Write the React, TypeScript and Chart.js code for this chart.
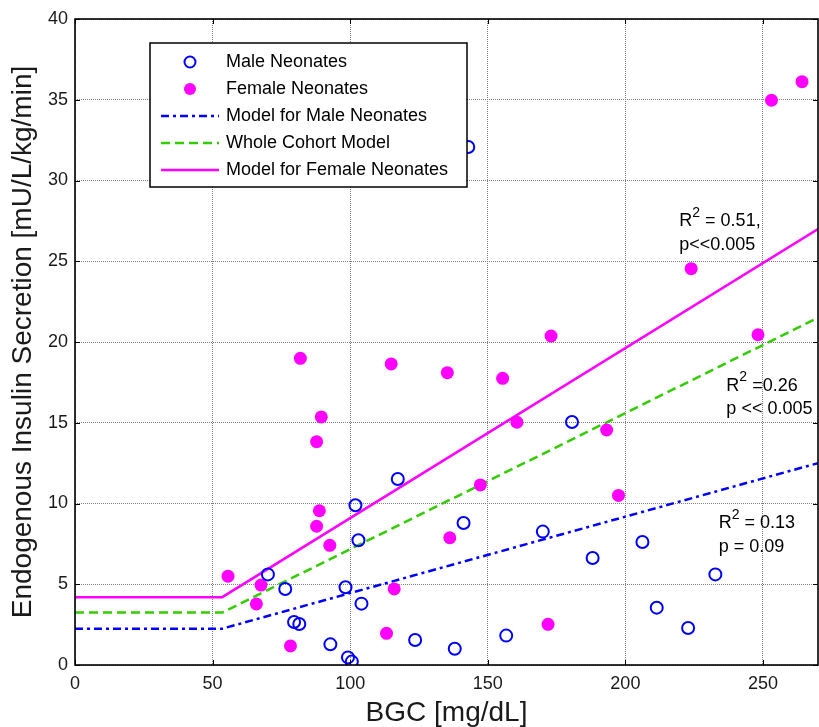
import React, { useEffect, useRef } from "react";
import { Chart, registerables } from "chart.js";

Chart.register(...registerables);

// ---- data ----
const maleX = [70.1, 76.4, 79.6, 81.5, 92.8, 98.3, 99.2, 100.6, 101.9, 103.0, 104.1, 117.3, 123.6, 141.2, 138.0, 156.7, 170.0, 180.6, 188.1, 206.2, 211.4, 222.8, 232.7, 142.9];
const maleY = [5.61, 4.71, 2.66, 2.54, 1.28, 4.81, 0.47, 0.21, 9.89, 7.72, 3.8, 11.52, 1.55, 8.79, 1.01, 1.82, 8.26, 15.05, 6.63, 7.62, 3.55, 2.29, 5.61, 32.07];

const femaleX = [55.6, 67.6, 65.9, 78.3, 81.9, 89.5, 87.8, 88.8, 87.8, 92.6, 114.9, 116.0, 113.2, 135.3, 155.4, 160.6, 147.3, 136.2, 171.9, 193.2, 197.5, 173.0, 223.9, 248.2, 253.1, 264.2];
const femaleY = [5.5, 4.95, 3.78, 1.18, 18.99, 15.36, 13.83, 9.55, 8.59, 7.41, 18.64, 4.71, 1.96, 18.1, 17.75, 15.03, 11.15, 7.88, 2.52, 14.55, 10.5, 20.37, 24.54, 20.45, 34.97, 36.12];

const modelX = [0, 53.5, 270];
const maleModelY = [2.25, 2.25, 12.5];
const cohortModelY = [3.25, 3.25, 21.5];
const femaleModelY = [4.2, 4.2, 27.0];

const xTicks = [0, 50, 100, 150, 200, 250];
const yTicks = [0, 5, 10, 15, 20, 25, 30, 35, 40];

const legendLabels = [
  "Male Neonates",
  "Female Neonates",
  "Model for Male Neonates",
  "Whole Cohort Model",
  "Model for Female Neonates",
];

const annoText = ["R^2 = 0.51,", "p<<0.005", "R^2 =0.26", "p << 0.005", "R^2 = 0.13", "p = 0.09"];
const annoX = [219.6, 219.6, 236.7, 236.7, 233.9, 233.9];
const annoY = [27.5, 26.0, 17.3, 15.83, 8.81, 7.29];

// ---- styles ----
const BLUE = "#0000ff";
const MAGENTA = "#ff00ff";
const GREEN = "#33cc00";
const FONT = '"Liberation Sans", Arial, sans-serif';
const DASH_MALE = [8, 4, 3, 4];
const DASH_COHORT = [9, 5];

const toPts = (xs: number[], ys: number[]) => xs.map((x, i) => ({ x, y: ys[i] }));

const overlayPlugin = {
  id: "overlay",
  afterDraw(chart: any) {
    const { ctx, chartArea: a, scales } = chart;
    const xs = scales.x;
    const ys = scales.y;
    ctx.save();
    // inward ticks
    ctx.strokeStyle = "#000";
    ctx.lineWidth = 1;
    ctx.setLineDash([]);
    const seg = (x1: number, y1: number, x2: number, y2: number) => {
      ctx.beginPath();
      ctx.moveTo(x1, y1);
      ctx.lineTo(x2, y2);
      ctx.stroke();
    };
    for (const v of xTicks) {
      const px = Math.round(xs.getPixelForValue(v)) + 0.5;
      seg(px, a.bottom, px, a.bottom - 5);
      seg(px, a.top, px, a.top + 5);
    }
    for (const v of yTicks) {
      const py = Math.round(ys.getPixelForValue(v)) + 0.5;
      seg(a.left, py, a.left + 5, py);
      seg(a.right, py, a.right - 5, py);
    }
    // frame
    ctx.lineWidth = 1.6;
    ctx.strokeRect(a.left, a.top, a.right - a.left, a.bottom - a.top);

    // annotations
    ctx.fillStyle = "#000";
    ctx.textBaseline = "middle";
    ctx.textAlign = "left";
    annoText.forEach((t, i) => {
      let px = xs.getPixelForValue(annoX[i]);
      const py = ys.getPixelForValue(annoY[i]);
      const parts = t.split("^2");
      ctx.font = `18px ${FONT}`;
      ctx.fillText(parts[0], px, py);
      px += ctx.measureText(parts[0]).width;
      if (parts.length > 1) {
        ctx.font = `14px ${FONT}`;
        ctx.fillText("2", px, py - 8);
        px += ctx.measureText("2").width;
        ctx.font = `18px ${FONT}`;
        ctx.fillText(parts[1], px, py);
      }
    });

    // legend
    const L = 150, T = 43, R = 467, B = 187;
    ctx.fillStyle = "#fff";
    ctx.fillRect(L, T, R - L, B - T);
    ctx.lineWidth = 1.5;
    ctx.strokeStyle = "#000";
    ctx.strokeRect(L, T, R - L, B - T);
    const rowY = [62, 89, 116, 143, 170];
    legendLabels.forEach((lab, i) => {
      const yy = rowY[i];
      if (i === 0) {
        ctx.beginPath();
        ctx.arc(190, yy, 5.5, 0, Math.PI * 2);
        ctx.strokeStyle = BLUE;
        ctx.lineWidth = 2;
        ctx.setLineDash([]);
        ctx.stroke();
      } else if (i === 1) {
        ctx.beginPath();
        ctx.arc(190, yy, 6, 0, Math.PI * 2);
        ctx.fillStyle = MAGENTA;
        ctx.fill();
      } else {
        ctx.beginPath();
        ctx.moveTo(161, yy);
        ctx.lineTo(219, yy);
        ctx.lineWidth = 2.5;
        if (i === 2) { ctx.strokeStyle = BLUE; ctx.setLineDash(DASH_MALE); }
        if (i === 3) { ctx.strokeStyle = GREEN; ctx.setLineDash(DASH_COHORT); }
        if (i === 4) { ctx.strokeStyle = MAGENTA; ctx.setLineDash([]); }
        ctx.stroke();
        ctx.setLineDash([]);
      }
      ctx.fillStyle = "#000";
      ctx.font = `18px ${FONT}`;
      ctx.textBaseline = "middle";
      ctx.fillText(lab, 226, yy);
    });
    ctx.restore();
  },
};

export default function App() {
  const ref = useRef<HTMLCanvasElement | null>(null);

  useEffect(() => {
    if (!ref.current) return;
    const chart = new Chart(ref.current, {
      type: "scatter",
      data: {
        datasets: [
          {
            label: legendLabels[0],
            data: toPts(maleX, maleY),
            showLine: false,
            pointStyle: "circle",
            pointRadius: 6,
            pointBorderWidth: 2,
            pointBorderColor: BLUE,
            pointBackgroundColor: "rgba(0,0,0,0)",
            order: 0,
          },
          {
            label: legendLabels[1],
            data: toPts(femaleX, femaleY),
            showLine: false,
            pointStyle: "circle",
            pointRadius: 6.5,
            pointBorderWidth: 0,
            pointBackgroundColor: MAGENTA,
            pointBorderColor: MAGENTA,
            order: 0,
          },
          {
            label: legendLabels[2],
            data: toPts(modelX, maleModelY),
            showLine: true,
            borderColor: BLUE,
            borderWidth: 2.5,
            borderDash: DASH_MALE,
            pointRadius: 0,
            order: 1,
          },
          {
            label: legendLabels[3],
            data: toPts(modelX, cohortModelY),
            showLine: true,
            borderColor: GREEN,
            borderWidth: 2.5,
            borderDash: DASH_COHORT,
            pointRadius: 0,
            order: 1,
          },
          {
            label: legendLabels[4],
            data: toPts(modelX, femaleModelY),
            showLine: true,
            borderColor: MAGENTA,
            borderWidth: 2.5,
            pointRadius: 0,
            order: 1,
          },
        ],
      },
      options: {
        responsive: false,
        animation: false,
        devicePixelRatio: 1,
        layout: { autoPadding: false, padding: { top: 19, right: 1, left: 0, bottom: 0 } },
        plugins: { legend: { display: false }, tooltip: { enabled: false } },
        scales: {
          x: {
            type: "linear",
            min: 0,
            max: 270,
            afterBuildTicks: (s: any) => {
              s.ticks = xTicks.map((v) => ({ value: v }));
            },
            afterFit: (s: any) => {
              s.height = 62;
              s.paddingLeft = 0;
              s.paddingRight = 0;
            },
            ticks: {
              color: "#1a1a1a",
              font: { family: FONT, size: 18 },
              padding: 8,
              maxRotation: 0,
            },
            grid: { color: "#808080", drawTicks: false, lineWidth: 1 },
            border: { display: false, dash: [1, 1] },
            title: {
              display: true,
              text: "BGC [mg/dL]",
              color: "#1a1a1a",
              font: { family: FONT, size: 28, lineHeight: 1 },
              padding: { top: 0, bottom: 0 },
            },
          },
          y: {
            type: "linear",
            min: 0,
            max: 40,
            afterBuildTicks: (s: any) => {
              s.ticks = yTicks.map((v) => ({ value: v }));
            },
            afterFit: (s: any) => {
              s.width = 75;
            },
            ticks: {
              color: "#1a1a1a",
              font: { family: FONT, size: 18 },
              padding: 7,
            },
            grid: { color: "#808080", drawTicks: false, lineWidth: 1 },
            border: { display: false, dash: [1, 1] },
            title: {
              display: true,
              text: "Endogenous Insulin Secretion [mU/L/kg/min]",
              color: "#1a1a1a",
              font: { family: FONT, size: 28, lineHeight: 1 },
              padding: { top: 9, bottom: 0 },
            },
          },
        },
      },
      plugins: [overlayPlugin],
    } as any);
    return () => chart.destroy();
  }, []);

  return (
    <div style={{ position: "absolute", left: 0, top: 0, width: 819, height: 727, background: "#fff" }}>
      <canvas ref={ref} width={819} height={727} style={{ display: "block" }} />
    </div>
  );
}
